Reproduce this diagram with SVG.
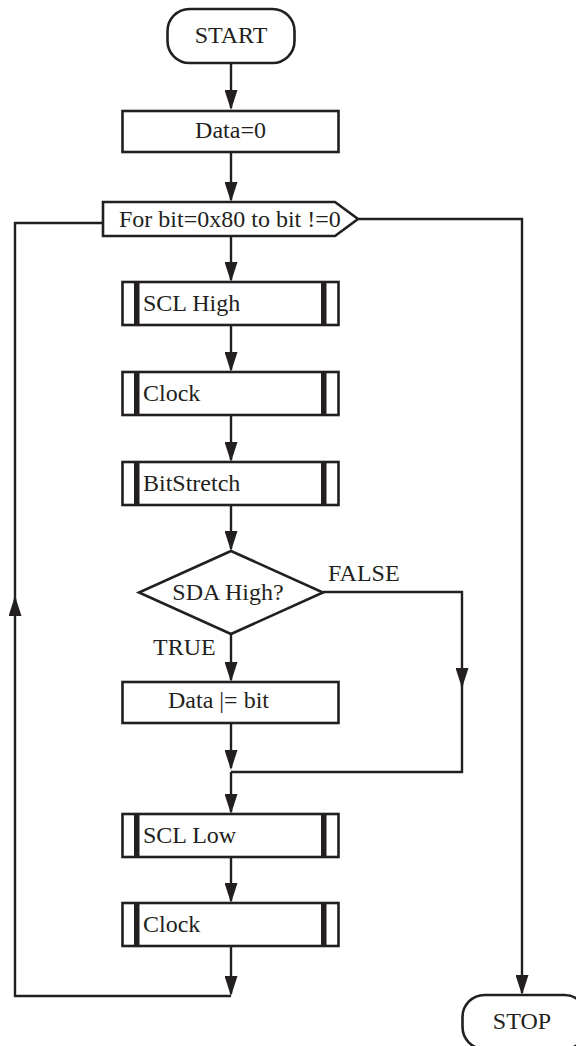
<svg xmlns="http://www.w3.org/2000/svg" width="576" height="1046" viewBox="0 0 576 1046">
<style>
.b{fill:#fff;stroke:#231f20;stroke-width:2.6}
.bar{fill:#231f20}
.t{font-family:"Liberation Serif","Times New Roman",serif;font-size:24px;fill:#231f20}
.m{text-anchor:middle}
.c{fill:none;stroke:#231f20;stroke-width:2.4}
</style>
<defs>
<marker id="ah" markerUnits="userSpaceOnUse" markerWidth="20" markerHeight="13" refX="18" refY="6.5" orient="auto">
<path d="M0,0 L20,6.5 L0,13 z" fill="#231f20"/>
</marker>
</defs>
<g id="connectors">
<path class="c" d="M231,63 V108" marker-end="url(#ah)"/>
<path class="c" d="M231,152 V200" marker-end="url(#ah)"/>
<path class="c" d="M231,236 V280" marker-end="url(#ah)"/>
<path class="c" d="M231,325 V370" marker-end="url(#ah)"/>
<path class="c" d="M231,415 V460" marker-end="url(#ah)"/>
<path class="c" d="M231,505 V549" marker-end="url(#ah)"/>
<path class="c" d="M231,634 V680" marker-end="url(#ah)"/>
<path class="c" d="M231,723 V768" marker-end="url(#ah)"/>
<path class="c" d="M231,772 V812" marker-end="url(#ah)"/>
<path class="c" d="M231,857 V901" marker-end="url(#ah)"/>
<path class="c" d="M231,946 V994" marker-end="url(#ah)"/>
<path class="c" d="M323,592 H462 V686" marker-end="url(#ah)"/>
<path class="c" d="M462,680 V772 H231"/>
<path class="c" d="M231,996 H15 V598" marker-end="url(#ah)"/>
<path class="c" d="M15,605 V223 H103"/>
<path class="c" d="M358,219 H522 V993" marker-end="url(#ah)"/>
<text class="t" x="328" y="581">FALSE</text>
<text class="t" x="153" y="655">TRUE</text>
</g>
<g id="start">
<rect class="b" x="167.5" y="9" width="127" height="54" rx="22"/>
<text class="t m" x="231" y="43">START</text>
</g>
<g id="data0">
<rect class="b" x="122.5" y="111" width="216" height="41"/>
<text class="t m" x="230.5" y="138">Data=0</text>
</g>
<g id="forloop">
<polygon class="b" points="103,202 335,202 358,219 335,236 103,236"/>
<text class="t" x="119" y="227">For bit=0x80 to bit !=0</text>
</g>
<g id="sclhigh">
<rect class="b" x="122.5" y="282" width="216" height="43"/>
<rect class="bar" x="134" y="282" width="5.5" height="43"/>
<rect class="bar" x="321" y="282" width="5.5" height="43"/>
<text class="t" x="143" y="311">SCL High</text>
</g>
<g id="clock1">
<rect class="b" x="122.5" y="372" width="216" height="43"/>
<rect class="bar" x="134" y="372" width="5.5" height="43"/>
<rect class="bar" x="321" y="372" width="5.5" height="43"/>
<text class="t" x="143" y="401">Clock</text>
</g>
<g id="bitstretch">
<rect class="b" x="122.5" y="462" width="216" height="43"/>
<rect class="bar" x="134" y="462" width="5.5" height="43"/>
<rect class="bar" x="321" y="462" width="5.5" height="43"/>
<text class="t" x="143" y="491">BitStretch</text>
</g>
<g id="sdahigh">
<polygon class="b" points="231,551 323,592.5 231,634 139,592.5"/>
<text class="t m" x="228" y="600">SDA High?</text>
</g>
<g id="dataor">
<rect class="b" x="122.5" y="682" width="216" height="41"/>
<text class="t" x="168" y="708">Data |= bit</text>
</g>
<g id="scllow">
<rect class="b" x="122.5" y="814" width="216" height="43"/>
<rect class="bar" x="134" y="814" width="5.5" height="43"/>
<rect class="bar" x="321" y="814" width="5.5" height="43"/>
<text class="t" x="143" y="843">SCL Low</text>
</g>
<g id="clock2">
<rect class="b" x="122.5" y="903" width="216" height="43"/>
<rect class="bar" x="134" y="903" width="5.5" height="43"/>
<rect class="bar" x="321" y="903" width="5.5" height="43"/>
<text class="t" x="143" y="932">Clock</text>
</g>
<g id="stop">
<rect class="b" x="462.5" y="995" width="124" height="54" rx="22"/>
<text class="t m" x="522" y="1029">STOP</text>
</g>
</svg>
